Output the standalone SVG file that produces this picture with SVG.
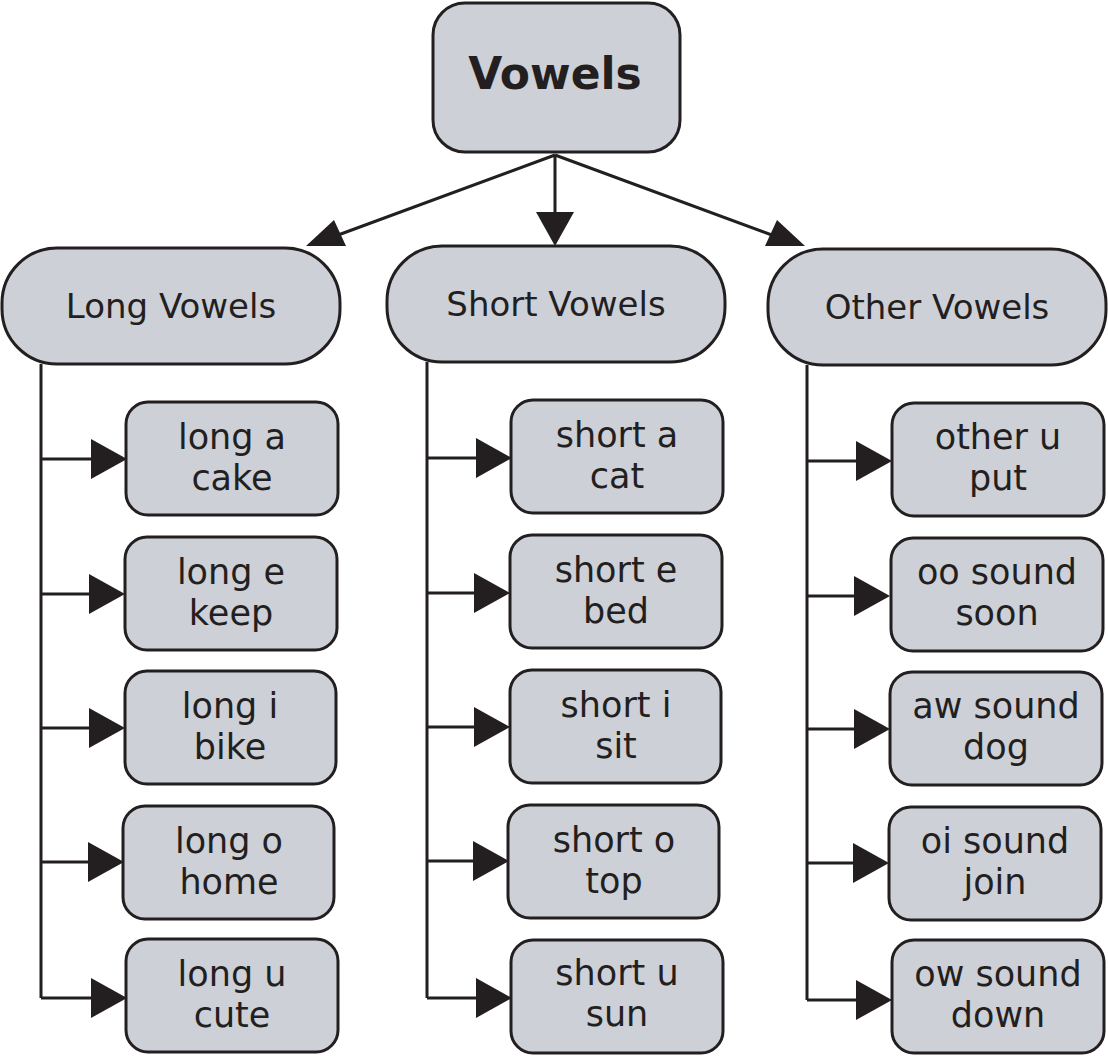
<svg xmlns="http://www.w3.org/2000/svg" width="1108" height="1056" viewBox="0 0 1108 1056">
<style>
.b{fill:#cdd0d7;stroke:#231f20;stroke-width:3}
.t{font-family:"DejaVu Sans",sans-serif;font-size:35px;fill:#231f20;text-anchor:middle}
.l{stroke:#231f20;stroke-width:3;fill:none}
.a{fill:#231f20}
</style>
<rect width="1108" height="1056" fill="#fff"/>
<g id="connectors">
<path class="l" d="M555 155L330 238M555 155V220M555 155L780 238"/>
<polygon class="a" points="306,246 334,220 346,246" transform="rotate(0)"/>
<polygon class="a" points="536,212 574,212 555,246"/>
<polygon class="a" points="805,246 765,246 777,220"/>
<path class="l" d="M41 364V998M427 362V998M807 365V1000"/>
<g id="h-long">
<path class="l" d="M41 459H95M41 594H93M41 728H93M41 862H92M41 998H95"/>
<polygon class="a" points="91,439 127,459 91,479"/><polygon class="a" points="89,574 125,594 89,614"/><polygon class="a" points="89,708 125,728 89,748"/><polygon class="a" points="88,842 124,862 88,882"/><polygon class="a" points="91,978 127,998 91,1018"/>
</g>
<g id="h-short">
<path class="l" d="M427 458H480M427 593H478M427 727H478M427 861H477M427 998H480"/>
<polygon class="a" points="476,438 512,458 476,478"/><polygon class="a" points="474,573 510,593 474,613"/><polygon class="a" points="474,707 510,727 474,747"/><polygon class="a" points="473,841 509,861 473,881"/><polygon class="a" points="476,978 512,998 476,1018"/>
</g>
<g id="h-other">
<path class="l" d="M807 461H860M807 596H858M807 729H858M807 863H857M807 1000H860"/>
<polygon class="a" points="856,441 892,461 856,481"/><polygon class="a" points="854,576 890,596 854,616"/><polygon class="a" points="854,709 890,729 854,749"/><polygon class="a" points="853,843 889,863 853,883"/><polygon class="a" points="856,980 892,1000 856,1020"/>
</g>
</g>
<g id="vowels"><rect class="b" x="433" y="3" width="247" height="149" rx="32"/><text class="t" x="555" y="89" style="font-weight:bold;font-size:44px">Vowels</text></g>
<g id="long"><rect class="b" x="2" y="248" width="338" height="116" rx="55"/><text class="t" x="171" y="318" style="font-size:34px">Long Vowels</text></g>
<g id="short"><rect class="b" x="387" y="246" width="338" height="116" rx="55"/><text class="t" x="556" y="316" style="font-size:34px">Short Vowels</text></g>
<g id="other"><rect class="b" x="768" y="249" width="338" height="116" rx="55"/><text class="t" x="937" y="319" style="font-size:34px">Other Vowels</text></g>
<g id="la"><rect class="b" x="126" y="402" width="212" height="113" rx="22"/><text class="t" x="232" y="449">long a</text><text class="t" x="232" y="490">cake</text></g>
<g id="le"><rect class="b" x="125" y="537" width="212" height="113" rx="22"/><text class="t" x="231" y="584">long e</text><text class="t" x="231" y="625">keep</text></g>
<g id="li"><rect class="b" x="125" y="671" width="211" height="113" rx="22"/><text class="t" x="230" y="718">long i</text><text class="t" x="230" y="759">bike</text></g>
<g id="lo"><rect class="b" x="123" y="806" width="211" height="113" rx="22"/><text class="t" x="229" y="853">long o</text><text class="t" x="229" y="894">home</text></g>
<g id="lu"><rect class="b" x="126" y="939" width="212" height="113" rx="22"/><text class="t" x="232" y="986">long u</text><text class="t" x="232" y="1027">cute</text></g>
<g id="sa"><rect class="b" x="511" y="400" width="212" height="113" rx="22"/><text class="t" x="617" y="447">short a</text><text class="t" x="617" y="488">cat</text></g>
<g id="se"><rect class="b" x="510" y="535" width="212" height="113" rx="22"/><text class="t" x="616" y="582">short e</text><text class="t" x="616" y="623">bed</text></g>
<g id="si"><rect class="b" x="510" y="670" width="211" height="113" rx="22"/><text class="t" x="616" y="717">short i</text><text class="t" x="616" y="758">sit</text></g>
<g id="so"><rect class="b" x="508" y="805" width="211" height="113" rx="22"/><text class="t" x="614" y="852">short o</text><text class="t" x="614" y="893">top</text></g>
<g id="su"><rect class="b" x="511" y="940" width="212" height="113" rx="22"/><text class="t" x="617" y="985">short u</text><text class="t" x="617" y="1026">sun</text></g>
<g id="ou"><rect class="b" x="892" y="403" width="212" height="113" rx="22"/><text class="t" x="998" y="449">other u</text><text class="t" x="998" y="490">put</text></g>
<g id="oo"><rect class="b" x="891" y="538" width="212" height="113" rx="22"/><text class="t" x="997" y="584">oo sound</text><text class="t" x="997" y="625">soon</text></g>
<g id="aw"><rect class="b" x="890" y="672" width="212" height="113" rx="22"/><text class="t" x="996" y="718">aw sound</text><text class="t" x="996" y="759">dog</text></g>
<g id="oi"><rect class="b" x="889" y="807" width="212" height="113" rx="22"/><text class="t" x="995" y="853">oi sound</text><text class="t" x="995" y="894">join</text></g>
<g id="ow"><rect class="b" x="892" y="940" width="212" height="113" rx="22"/><text class="t" x="998" y="986">ow sound</text><text class="t" x="998" y="1027">down</text></g>
</svg>
